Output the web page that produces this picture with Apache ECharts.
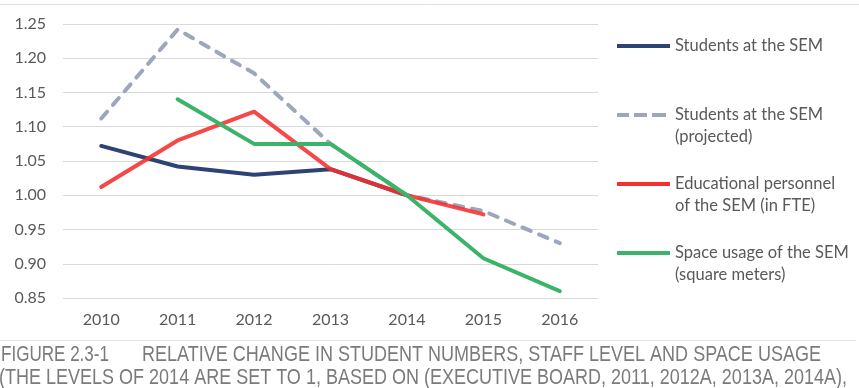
<!DOCTYPE html>
<html>
<head>
<meta charset="utf-8">
<script src="https://cdn.jsdelivr.net/npm/echarts@6/dist/echarts.min.js"></script>
<style>
  html, body { margin: 0; padding: 0; background: #ffffff; }
  #chart { width: 859px; height: 388px; }
</style>
</head>
<body>
<div id="chart"></div>
<script>
// ---- data ----
const categories = ['2010', '2011', '2012', '2013', '2014', '2015', '2016'];
const studentsSEM = [1.072, 1.042, 1.030, 1.038, 1.000, null, null];
const studentsProjected = [1.112, 1.242, 1.178, 1.075, 1.000, 0.977, 0.930];
const educationalPersonnel = [1.012, 1.080, 1.122, 1.038, 1.000, 0.972, null];
const spaceUsage = [null, 1.140, 1.075, 1.075, 1.000, 0.908, 0.860];
const seriesNames = [
  'Students at the SEM',
  'Students at the SEM\n(projected)',
  'Educational personnel\nof the SEM (in FTE)',
  'Space usage of the SEM\n(square meters)'
];
const yMin = 0.85, yMax = 1.25, yStep = 0.05;
const captionLabel = 'FIGURE 2.3-1';
const captionTitle = 'RELATIVE CHANGE IN STUDENT NUMBERS, STAFF LEVEL AND SPACE USAGE';
const captionLine2 = '(THE LEVELS OF 2014 ARE SET TO 1, BASED ON (EXECUTIVE BOARD, 2011, 2012A, 2013A, 2014A),';

// ---- styles ----
const colors = ['#2d4374', '#9ea6be', '#f52f2f', '#3bb46a'];
const txt = '#595959';
const font = 'Lato, "Open Sans", sans-serif';
const capFont = '"Liberation Sans", Arial, sans-serif';
const capSize = 22;

const measure = (function () {
  const c = document.createElement('canvas').getContext('2d');
  return function (text, size, family) {
    c.font = size + 'px ' + family;
    return c.measureText(text).width;
  };
})();
function capText(text, x, y, width) {
  const w = measure(text, capSize, capFont);
  return {
    type: 'text', x: x, y: y, scaleX: width / w, silent: true,
    style: { text: text, fontSize: capSize, fontFamily: capFont, fill: '#7b7b7b',
             align: 'left', verticalAlign: 'middle' }
  };
}

const solidIcon = 'path://M0,0M0,9L53,9L53,13L0,13ZM53,44';
const dashIcon = 'path://M0,0M0,9L12,9L12,13L0,13ZM17,9L30,9L30,13L17,13ZM35,9L49,9L49,13L35,13ZM53,44';

const chart = echarts.init(document.getElementById('chart'), null, { renderer: 'canvas' });
const seriesData = [studentsSEM, studentsProjected, educationalPersonnel, spaceUsage];

chart.setOption({
  backgroundColor: '#ffffff',
  animation: false,
  grid: { left: 63, right: 261, top: 24, bottom: 90, containLabel: false },
  xAxis: {
    type: 'category',
    data: categories,
    boundaryGap: true,
    axisLine: { show: false },
    axisTick: { show: false },
    axisLabel: { color: txt, fontFamily: font, fontSize: 16, margin: 14 }
  },
  yAxis: {
    type: 'value',
    min: yMin, max: yMax, interval: yStep,
    axisLine: { show: false },
    axisTick: { show: false },
    axisLabel: { color: txt, fontFamily: font, fontSize: 16, margin: 17,
                 formatter: v => v.toFixed(2) },
    splitLine: { lineStyle: { color: '#d9d9d9', width: 1 } }
  },
  legend: {
    orient: 'vertical',
    left: 612, top: 30,
    itemWidth: 53, itemHeight: 44, itemGap: 25,
    selectedMode: false,
    formatter: name => (name.indexOf('\n') < 0 ? name + '\n ' : name),
    textStyle: { color: txt, fontFamily: font, fontSize: 16.5, lineHeight: 22 },
    data: seriesNames.map((n, i) => ({
      name: n,
      icon: i === 1 ? dashIcon : solidIcon,
      itemStyle: { color: colors[i], borderWidth: 0, opacity: 1 }
    }))
  },
  graphic: [
    { type: 'line', silent: true, shape: { x1: 0, y1: 4.5, x2: 859, y2: 4.5 },
      style: { stroke: '#dedede', lineWidth: 1 } },
    { type: 'line', silent: true, shape: { x1: 0, y1: 340.5, x2: 856, y2: 340.5 },
      style: { stroke: '#e4e4e4', lineWidth: 1 } },
    capText(captionLabel, 1, 355, 108),
    capText(captionTitle, 142, 355, 679),
    capText(captionLine2, -1, 378, 848)
  ],
  series: seriesData.map((d, i) => ({
    name: seriesNames[i],
    type: 'line',
    data: d,
    showSymbol: false,
    symbol: 'none',
    connectNulls: false,
    lineStyle: {
      color: colors[i],
      width: 4,
      type: i === 1 ? [9, 9] : 'solid',
      cap: 'round',
      join: 'round',
      opacity: i === 2 ? 0.88 : 1
    },
    itemStyle: { color: colors[i] },
    emphasis: { disabled: true }
  }))
});
</script>
</body>
</html>
